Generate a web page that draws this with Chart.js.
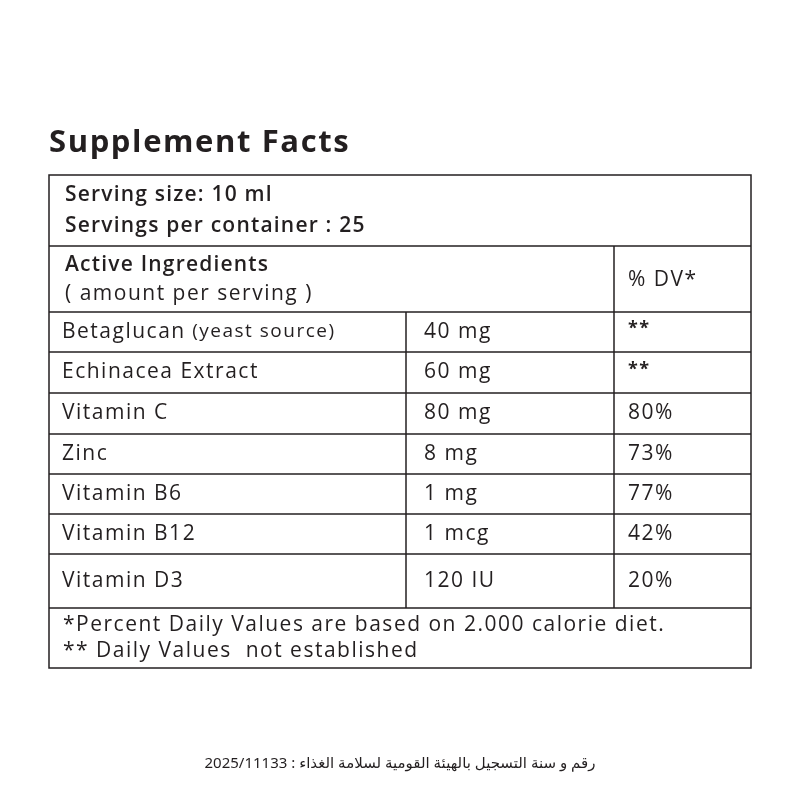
<!DOCTYPE html>
<html><head><meta charset="utf-8">
<script src="https://cdn.jsdelivr.net/npm/chart.js@4"></script>
<style>html,body{margin:0;background:#fff}#c{display:block}</style>
</head><body>
<div style="width:800px;height:800px"><canvas id="c" width="800" height="800"></canvas></div>
<script>
const title = "Supplement Facts";
const servingLines = ["Serving size: 10 ml", "Servings per container : 25"];
const headerLeft = ["Active Ingredients", "( amount per serving )"];
const headerRight = "% DV*";
const ingredients = ["Betaglucan", "Echinacea Extract", "Vitamin C", "Zinc", "Vitamin B6", "Vitamin B12", "Vitamin D3"];
const ingredientNotes = [" (yeast source)", "", "", "", "", "", ""];
const amounts = ["40 mg", "60 mg", "80 mg", "8 mg", "1 mg", "1 mcg", "120 IU"];
const dvValues = ["**", "**", "80%", "73%", "77%", "42%", "20%"];
const footnotes = ["*Percent Daily Values are based on 2.000 calorie diet.", "** Daily Values  not established"];
const registration = "رقم و سنة التسجيل بالهيئة القومية لسلامة الغذاء : 2025/11133";

const F = '"Open Sans", "Noto Sans", sans-serif';
const rowEdges = [312, 352, 393, 434, 474, 514, 554, 608];
const tablePlugin = {
  id: 'table',
  afterDraw(chart) {
    const ctx = chart.ctx;
    ctx.save();
    ctx.fillStyle = '#231f20';
    ctx.strokeStyle = '#231f20';
    ctx.lineWidth = 1.5;
    ctx.textBaseline = 'middle';
    ctx.letterSpacing = '1.6px';
    ctx.font = 'bold 31px ' + F;
    ctx.fillText(title, 49, 143);
    const L = 49, R = 751, T = 175, B = 668;
    ctx.strokeRect(L, T, R - L, B - T);
    const hl = y => { ctx.beginPath(); ctx.moveTo(L, y); ctx.lineTo(R, y); ctx.stroke(); };
    const vl = (x, y1, y2) => { ctx.beginPath(); ctx.moveTo(x, y1); ctx.lineTo(x, y2); ctx.stroke(); };
    hl(246);
    rowEdges.forEach(hl);
    vl(614, 246, 608);
    vl(406, 312, 608);
    ctx.letterSpacing = '1.2px';
    ctx.font = '600 21px ' + F;
    ctx.fillText(servingLines[0], 65, 195);
    ctx.fillText(servingLines[1], 65, 226);
    ctx.fillText(headerLeft[0], 65, 265);
    ctx.letterSpacing = '1.5px';
    ctx.font = '21px ' + F;
    ctx.fillText(headerLeft[1], 65, 294);
    ctx.fillText(headerRight, 628, 280);
    for (let i = 0; i < ingredients.length; i++) {
      const y = (rowEdges[i] + rowEdges[i + 1]) / 2;
      ctx.font = '21px ' + F;
      ctx.fillText(ingredients[i], 62, y);
      if (ingredientNotes[i]) {
        const w = ctx.measureText(ingredients[i]).width;
        ctx.font = '19px ' + F;
        ctx.fillText(ingredientNotes[i], 62 + w, y);
      }
      ctx.font = '21px ' + F;
      ctx.fillText(amounts[i], 424, y);
      ctx.font = (dvValues[i] === '**' ? 'bold 18px ' : '21px ') + F;
      ctx.fillText(dvValues[i], 628, y + (dvValues[i] === '**' ? -3 : 0));
    }
    ctx.font = '21px ' + F;
    ctx.fillText(footnotes[0], 63, 625);
    ctx.fillText(footnotes[1], 63, 651);
    ctx.letterSpacing = '0px';
    ctx.font = '15px "Noto Sans", "DejaVu Sans", sans-serif';
    ctx.textAlign = 'center';
    ctx.direction = 'rtl';
    ctx.fillText(registration, 400, 764);
    ctx.restore();
  }
};
new Chart(document.getElementById('c'), {
  type: 'bar',
  data: { labels: ingredients, datasets: [{ data: [], backgroundColor: 'transparent' }] },
  options: {
    responsive: false, animation: false,
    plugins: { legend: { display: false }, tooltip: { enabled: false } },
    scales: { x: { display: false }, y: { display: false } }
  },
  plugins: [tablePlugin]
});
</script>
</body></html>
